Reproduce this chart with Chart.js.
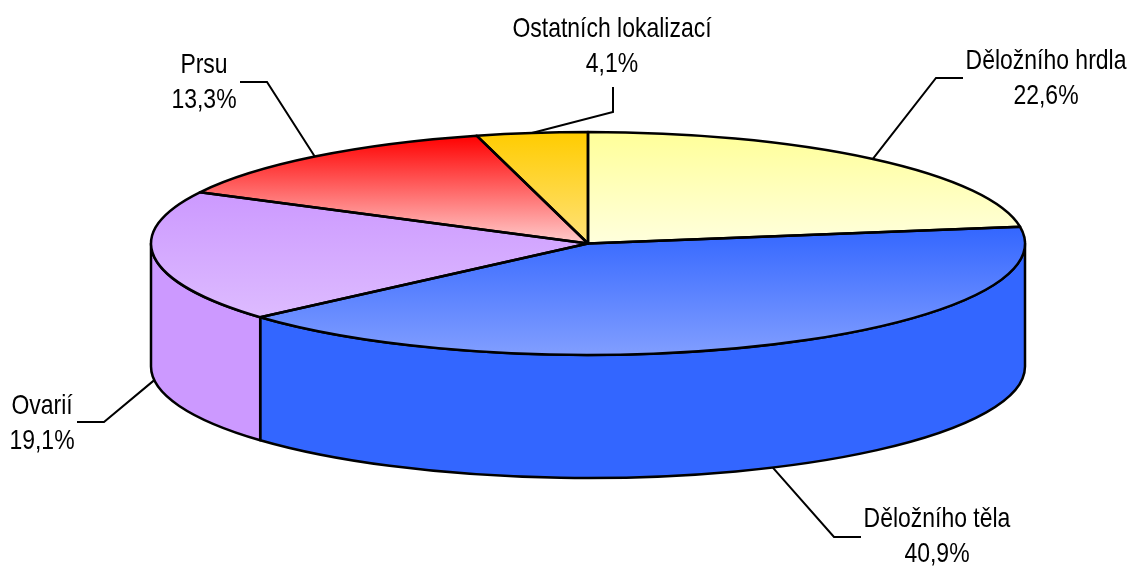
<!DOCTYPE html>
<html>
<head>
<meta charset="utf-8">
<script src="https://cdn.jsdelivr.net/npm/chart.js"></script>
<style>
  body { margin: 0; background: #fff; }
  #wrap { width: 1131px; height: 566px; position: relative; }
</style>
</head>
<body>
<div id="wrap"><canvas id="pieChart"></canvas></div>
<script>
const categories = ['Děložního hrdla', 'Děložního těla', 'Ovarií', 'Prsu', 'Ostatních lokalizací'];
const shares = [22.6, 40.9, 19.1, 13.3, 4.1];

const topColors = ['#FFFF99', '#3366FF', '#CC99FF', '#FF0000', '#FFCC00'];
const lightColors = ['#FFFFDD', '#819EFF', '#DDBBFF', '#FFCCCC', '#FFE27A'];
const sideColors = ['#FFFF99', '#3366FF', '#CC99FF', '#FF0000', '#FFCC00'];

// where the flattened pie sits on the page
const CX = 588, CY = 243.5, RX = 437, RY = 111.5, DEPTH = 123;

// label boxes: text centre x, first baseline, elbow and end of the leader line
const labelPos = [
  { x: 1046, y: 69,  elbow: [936, 78],  end: [963, 78] },
  { x: 937,  y: 527, elbow: [834, 537], end: [861, 537] },
  { x: 42,   y: 414, elbow: [104, 422], end: [77, 422] },
  { x: 204,  y: 73,  elbow: [267, 82],  end: [240, 82] },
  { x: 612,  y: 37,  elbow: [613, 112], end: [613, 87] }
];

// no narrow face installed, so squeeze the regular one
const FONT = '28px "Liberation Sans", Arial, sans-serif';
const NARROW = 0.82;

function sliceAngles(i) {
  const total = shares.reduce((a, b) => a + b, 0);
  let before = 0;
  for (let k = 0; k < i; k++) before += shares[k];
  const s = -Math.PI / 2 + before / total * 2 * Math.PI;
  return [s, s + shares[i] / total * 2 * Math.PI];
}

function yExtent(s, e) {
  const vals = [0, Math.sin(s), Math.sin(e)];
  for (let k = -1; k <= 1; k++) {
    const down = Math.PI / 2 + 2 * Math.PI * k;
    const up = -Math.PI / 2 + 2 * Math.PI * k;
    if (down > s && down < e) vals.push(1);
    if (up > s && up < e) vals.push(-1);
  }
  return [Math.min(...vals), Math.max(...vals)];
}

function pt(a, dy) {
  return [CX + RX * Math.cos(a), CY + RY * Math.sin(a) + (dy || 0)];
}

function narrowText(ctx, text, x, y) {
  ctx.save();
  ctx.translate(x, y);
  ctx.scale(NARROW, 1);
  ctx.fillText(text, 0, 0);
  ctx.restore();
}

const pie3d = {
  id: 'pie3d',
  beforeDatasetsDraw(chart) {
    const ctx = chart.ctx;
    const arcs = chart.getDatasetMeta(0).data;
    // side walls, only the front half is visible
    ctx.save();
    ctx.lineWidth = 2.5;
    ctx.strokeStyle = '#000';
    ctx.lineJoin = 'round';
    arcs.forEach((arc, i) => {
      const a1 = Math.max(arc.startAngle, 0);
      const a2 = Math.min(arc.endAngle, Math.PI);
      if (a1 >= a2) return;
      ctx.beginPath();
      ctx.ellipse(CX, CY, RX, RY, 0, a1, a2, false);
      ctx.ellipse(CX, CY + DEPTH, RX, RY, 0, a2, a1, true);
      ctx.closePath();
      ctx.fillStyle = sideColors[i];
      ctx.fill();
      ctx.stroke();
    });
    ctx.restore();

    // squash the library's circle into the top ellipse
    const a0 = arcs[0];
    const sx = RX / a0.outerRadius, sy = RY / a0.outerRadius;
    ctx.save();
    ctx.translate(CX, CY);
    ctx.scale(sx, sy);
    ctx.translate(-a0.x, -a0.y);
  },
  afterDatasetsDraw(chart) {
    const ctx = chart.ctx;
    ctx.restore();
    const arcs = chart.getDatasetMeta(0).data;
    ctx.save();
    ctx.lineWidth = 2.5;
    ctx.strokeStyle = '#000';
    ctx.lineJoin = 'round';
    arcs.forEach((arc) => {
      const p = pt(arc.startAngle);
      ctx.beginPath();
      ctx.moveTo(CX, CY);
      ctx.lineTo(p[0], p[1]);
      ctx.ellipse(CX, CY, RX, RY, 0, arc.startAngle, arc.endAngle, false);
      ctx.closePath();
      ctx.stroke();
    });

    // labels with leader lines
    ctx.lineWidth = 2;
    ctx.lineJoin = 'miter';
    ctx.font = FONT;
    ctx.fillStyle = '#000';
    ctx.textAlign = 'center';
    ctx.textBaseline = 'alphabetic';
    arcs.forEach((arc, i) => {
      const mid = (arc.startAngle + arc.endAngle) / 2;
      const anchor = pt(mid, Math.sin(mid) > 0 ? DEPTH : 0);
      const lp = labelPos[i];
      ctx.beginPath();
      ctx.moveTo(anchor[0], anchor[1]);
      ctx.lineTo(lp.elbow[0], lp.elbow[1]);
      ctx.lineTo(lp.end[0], lp.end[1]);
      ctx.stroke();
      const label = chart.data.labels[i];
      const value = chart.data.datasets[0].data[i];
      narrowText(ctx, label, lp.x, lp.y);
      narrowText(ctx, value.toFixed(1).replace('.', ',') + '%', lp.x, lp.y + 35);
    });
    ctx.restore();
  }
};

const ctx = document.getElementById('pieChart').getContext('2d');

const pieChart = new Chart(ctx, {
  type: 'pie',
  data: {
    labels: categories,
    datasets: [{
      data: shares,
      borderWidth: 0,
      clip: false,
      backgroundColor: (c) => {
        const area = c.chart.chartArea;
        const i = c.dataIndex;
        if (!area) return topColors[i];
        const x0 = (area.left + area.right) / 2;
        const y0 = (area.top + area.bottom) / 2;
        const R = Math.min(area.right - area.left, area.bottom - area.top) / 2;
        const [s, e] = sliceAngles(i);
        const [lo, hi] = yExtent(s, e);
        const g = c.chart.ctx.createLinearGradient(0, y0 + R * lo, 0, y0 + R * hi);
        g.addColorStop(0, topColors[i]);
        g.addColorStop(1, lightColors[i]);
        return g;
      }
    }]
  },
  options: {
    responsive: true,
    maintainAspectRatio: false,
    animation: false,
    events: [],
    plugins: {
      legend: { display: false },
      tooltip: { enabled: false }
    }
  },
  plugins: [pie3d]
});
</script>
</body>
</html>
